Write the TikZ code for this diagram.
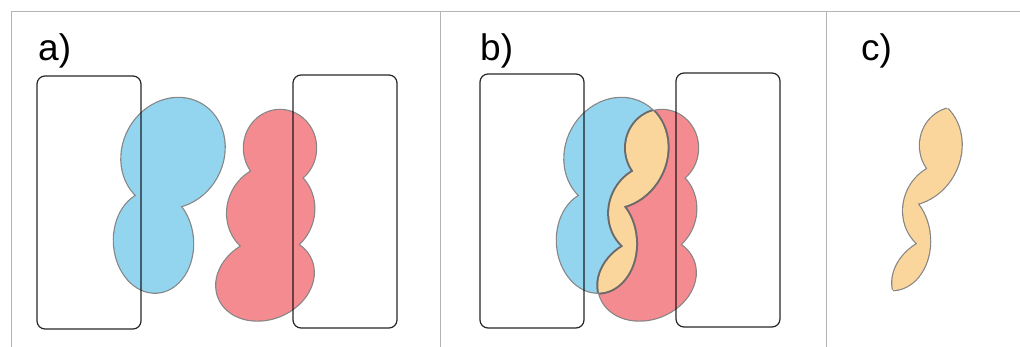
\documentclass[tikz,border=0pt]{standalone}
\usepackage{fontspec}
\newfontfamily\labfont{Liberation Sans}
\definecolor{bluefill}{HTML}{93D4EF}
\definecolor{redfill}{HTML}{F48B90}
\definecolor{orangefill}{HTML}{FAD69C}
\definecolor{blobline}{HTML}{858585}
\definecolor{darkline}{HTML}{6A6A6A}
\definecolor{framecol}{HTML}{B4B4B4}
\newcommand\BlueP[2]{([shift={(#1,#2)}]173,-153) circle[x radius=56.5pt,y radius=50pt,rotate=61]
 ([shift={(#1,#2)}]153.5,-242) circle[x radius=39.5pt,y radius=50.7pt,rotate=4]}
\newcommand\RedP[2]{([shift={(#1,#2)}]280,-148) circle[x radius=36pt,y radius=38pt]
 ([shift={(#1,#2)}]270.7,-211) circle[x radius=46pt,y radius=43pt,rotate=65]
 ([shift={(#1,#2)}]265,-279) circle[x radius=50pt,y radius=40pt,rotate=22]}
\begin{document}
\begin{tikzpicture}[x=1pt,y=1pt,
  frameline/.style={draw=framecol,line width=1pt},
  boxrect/.style={draw=black,draw opacity=0.85,line width=1.2pt,rounded corners=8pt},
  outerline/.style={draw=blobline,line width=2.4pt},
  darkouter/.style={draw=darkline,line width=4pt},
  lab/.style={anchor=base west,inner sep=0pt,font=\labfont\fontsize{37}{44}\selectfont}]
\useasboundingbox (0,0) rectangle (1020,-347);
% frame
\draw[frameline] (11,-347) -- (11,-12) -- (1020,-12);
\draw[frameline] (440,-12) -- (440,-347);
\draw[frameline] (826.5,-12) -- (826.5,-347);
% labels
\node[lab] (la) at (38,-61) {a)};
\node[lab] (lb) at (480,-61) {b)};
\node[lab] (lc) at (861,-61) {c)};
% ---------- panel a
\draw[outerline] \BlueP{0}{0};
\fill[bluefill] \BlueP{0}{0};
\draw[outerline] \RedP{0}{0};
\fill[redfill] \RedP{0}{0};
\draw[boxrect] (37,-76) rectangle (141,-329);
\draw[boxrect] (293,-75) rectangle (397,-328);
% ---------- panel b
\draw[outerline] \BlueP{443}{0};
\fill[bluefill] \BlueP{443}{0};
\draw[outerline] \RedP{382}{0};
\fill[redfill] \RedP{382}{0};
\begin{scope}
  \clip \BlueP{443}{0};
  \draw[darkouter] \RedP{382}{0};
\end{scope}
\begin{scope}
  \clip \RedP{382}{0};
  \draw[darkouter] \BlueP{443}{0};
\end{scope}
\begin{scope}
  \clip \BlueP{443}{0};
  \fill[orangefill] \RedP{382}{0};
\end{scope}
\draw[boxrect] (480,-74) rectangle (584,-328);
\draw[boxrect] (676,-73) rectangle (780,-327);
% ---------- panel c
\begin{scope}
  \clip \BlueP{737}{2.5};
  \draw[outerline] \RedP{676}{2.5};
\end{scope}
\begin{scope}
  \clip \RedP{676}{2.5};
  \draw[outerline] \BlueP{737}{2.5};
\end{scope}
\begin{scope}
  \clip \BlueP{737}{2.5};
  \fill[orangefill] \RedP{676}{2.5};
\end{scope}
\end{tikzpicture}
\end{document}
